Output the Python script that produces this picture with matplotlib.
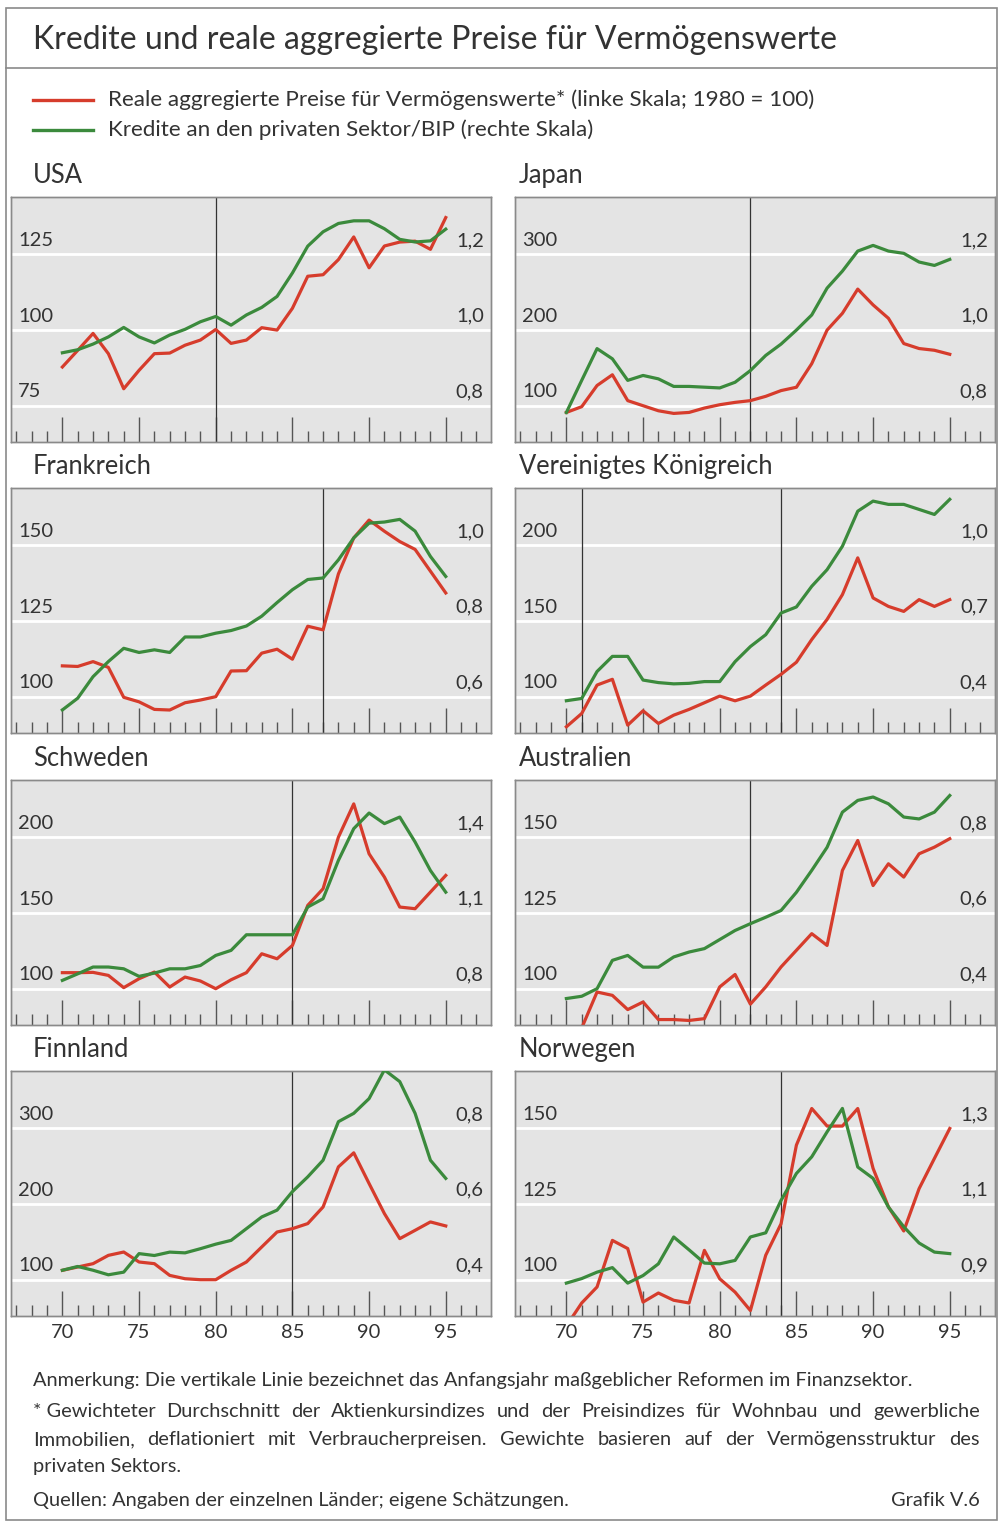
import numpy as np
import matplotlib.pyplot as plt
from matplotlib.patches import Rectangle
from matplotlib.lines import Line2D
from matplotlib.transforms import offset_copy

plt.rcParams['font.family'] = ['Lato', 'DejaVu Sans']

W, H = 1002, 1523
RED = '#d63c2c'
GREEN = '#3b8a3c'
BG = '#e4e4e4'
TXT = '#333333'
EDGE = '#8a8a8a'

years = np.arange(70, 96)

# Reale aggregierte Vermögenspreise (1980 = 100) und Kredite/BIP
usa_price = [87.8, 93.3, 98.9, 92.2, 80.6, 86.7, 92.2, 92.4, 95.0, 96.7, 100.2, 95.6, 96.7,
             100.8, 100.0, 107.2, 117.8, 118.3, 123.3, 130.8, 120.6, 127.8, 129.1, 129.4, 126.7, 137.2]
usa_credit = [0.940, 0.948, 0.963, 0.982, 1.007, 0.982, 0.966, 0.987, 1.002, 1.022, 1.036, 1.013, 1.040,
              1.060, 1.089, 1.151, 1.222, 1.260, 1.282, 1.289, 1.289, 1.268, 1.240, 1.233, 1.236, 1.267]

jpn_price = [91.1, 98.7, 126.7, 140.9, 106.7, 100.0, 93.3, 89.8, 91.1, 96.9, 101.3, 104.4, 106.7,
             112.4, 120.0, 124.4, 155.6, 200.0, 222.2, 254.2, 233.3, 215.6, 182.2, 175.6, 173.3, 168.0]
jpn_credit = [0.782, 0.867, 0.951, 0.924, 0.867, 0.880, 0.871, 0.851, 0.851, 0.849, 0.847, 0.862, 0.893,
              0.933, 0.963, 1.000, 1.040, 1.111, 1.156, 1.209, 1.224, 1.209, 1.203, 1.180, 1.171, 1.187]

fra_price = [110.2, 110.0, 111.6, 109.7, 99.8, 98.3, 95.8, 95.6, 98.0, 98.9, 100.0, 108.5, 108.6,
             114.4, 115.7, 112.4, 123.3, 122.1, 140.6, 152.5, 158.4, 154.7, 151.3, 148.7, 141.5, 134.3]
fra_credit = [0.565, 0.596, 0.653, 0.693, 0.728, 0.717, 0.724, 0.717, 0.758, 0.758, 0.768, 0.775, 0.787,
              0.813, 0.849, 0.883, 0.910, 0.914, 0.962, 1.020, 1.059, 1.062, 1.069, 1.038, 0.971, 0.918]

gbr_price = [80.1, 88.9, 107.7, 111.5, 81.2, 90.7, 82.3, 87.8, 91.6, 96.0, 100.4, 97.3, 100.4,
             107.7, 114.8, 122.8, 137.8, 151.1, 167.5, 191.8, 165.3, 159.7, 156.4, 164.2, 159.7, 164.2]
gbr_credit = [0.384, 0.393, 0.500, 0.560, 0.560, 0.466, 0.456, 0.451, 0.453, 0.460, 0.460, 0.539, 0.599,
              0.646, 0.732, 0.756, 0.838, 0.904, 0.997, 1.136, 1.176, 1.163, 1.163, 1.143, 1.123, 1.183]

swe_price = [110.6, 110.6, 110.8, 108.8, 100.7, 106.6, 111.0, 101.1, 107.7, 105.1, 100.0, 105.9, 110.6,
             123.1, 119.8, 128.6, 155.1, 166.1, 200.2, 222.2, 189.2, 173.8, 154.0, 152.9, 163.9, 174.9]
swe_credit = [0.833, 0.859, 0.886, 0.886, 0.879, 0.849, 0.862, 0.879, 0.879, 0.892, 0.932, 0.952, 1.014,
              1.014, 1.014, 1.014, 1.124, 1.157, 1.309, 1.435, 1.497, 1.455, 1.481, 1.382, 1.269, 1.183]

aus_price = [80.0, 87.0, 98.9, 97.8, 93.1, 95.6, 89.8, 89.8, 89.5, 90.1, 100.6, 104.7, 94.9,
             100.6, 107.2, 112.7, 118.2, 114.3, 139.1, 149.0, 134.1, 141.3, 136.9, 144.6, 146.8, 149.6]
aus_credit = [0.374, 0.380, 0.400, 0.475, 0.488, 0.457, 0.457, 0.484, 0.497, 0.506, 0.530, 0.554, 0.572,
              0.589, 0.607, 0.655, 0.713, 0.774, 0.867, 0.898, 0.907, 0.889, 0.854, 0.849, 0.867, 0.911]

fin_price = [112.4, 116.8, 121.2, 132.2, 136.6, 123.4, 121.2, 105.7, 101.3, 100.0, 100.0, 112.4, 123.4,
             143.3, 163.1, 167.5, 174.2, 196.2, 249.2, 267.8, 227.2, 187.4, 154.3, 165.3, 176.4, 171.1]
fin_credit = [0.425, 0.435, 0.425, 0.413, 0.420, 0.469, 0.464, 0.473, 0.471, 0.482, 0.494, 0.504, 0.535,
              0.566, 0.584, 0.633, 0.672, 0.716, 0.818, 0.840, 0.879, 0.955, 0.924, 0.840, 0.716, 0.668]

nor_price = [84.7, 92.3, 97.6, 113.0, 110.3, 92.6, 95.6, 93.2, 92.3, 109.7, 100.3, 95.9, 89.8,
             108.1, 118.5, 144.5, 156.6, 150.8, 150.8, 156.6, 136.8, 124.1, 116.1, 130.1, 140.1, 150.0]
nor_credit = [0.891, 0.903, 0.920, 0.932, 0.891, 0.911, 0.942, 1.013, 0.979, 0.944, 0.942, 0.951, 1.013,
              1.024, 1.110, 1.181, 1.225, 1.291, 1.353, 1.198, 1.168, 1.092, 1.040, 0.997, 0.973, 0.969]

countries = ["USA", "Japan", "Frankreich", "Vereinigtes Königreich",
             "Schweden", "Australien", "Finnland", "Norwegen"]
prices = [usa_price, jpn_price, fra_price, gbr_price, swe_price, aus_price, fin_price, nor_price]
credits = [usa_credit, jpn_credit, fra_credit, gbr_credit, swe_credit, aus_credit, fin_credit, nor_credit]
left_ticks = [[75, 100, 125], [100, 200, 300], [100, 125, 150], [100, 150, 200],
              [100, 150, 200], [100, 125, 150], [100, 200, 300], [100, 125, 150]]
right_ticks = [[0.8, 1.0, 1.2], [0.8, 1.0, 1.2], [0.6, 0.8, 1.0], [0.4, 0.7, 1.0],
               [0.8, 1.1, 1.4], [0.4, 0.6, 0.8], [0.4, 0.6, 0.8], [0.9, 1.1, 1.3]]
reform_years = [[80], [82], [87], [71, 84], [85], [82], [85], [84]]


def fx(x):
    return x / W


def fy(y):
    return 1 - y / H


fig = plt.figure(figsize=(W / 100, H / 100), dpi=100)

# outer frame and title rule
fig.add_artist(Rectangle((fx(6), fy(1520)), fx(991), 1512 / H, transform=fig.transFigure,
                         fill=False, edgecolor=EDGE, lw=1.2))
fig.add_artist(Line2D([fx(6), fx(997)], [fy(68), fy(68)], color=EDGE, lw=1.2))
fig.text(fx(33), fy(40), "Kredite und reale aggregierte Preise für Vermögenswerte",
         fontsize=23, color=TXT, va='center')

# legend
for yy, col, lab in [(100, RED, "Reale aggregierte Preise für Vermögenswerte* (linke Skala; 1980 = 100)"),
                     (130, GREEN, "Kredite an den privaten Sektor/BIP (rechte Skala)")]:
    fig.add_artist(Line2D([fx(33), fx(93)], [fy(yy), fy(yy)], color=col, lw=2.4))
    fig.text(fx(108), fy(yy), lab, fontsize=16.2, color=TXT, va='center')

col_x = [11, 515]
title_x = [33, 519]
row_y = [197, 488, 780, 1071]
pw, ph = 480, 245

for i, name in enumerate(countries):
    c, r = i % 2, i // 2
    ax = fig.add_axes([fx(col_x[c]), fy(row_y[r] + ph), pw / W, ph / H])
    ax2 = ax.twinx()
    lt, rt = left_ticks[i], right_ticks[i]
    d, e = lt[1] - lt[0], rt[1] - rt[0]
    ax.set_xlim(66.65, 97.95)
    ax.set_ylim(lt[0] - 0.48 * d, lt[2] + 0.76 * d)
    ax2.set_ylim(rt[0] - 0.48 * e, rt[2] + 0.76 * e)

    ax.set_facecolor(BG)
    ax.set_yticks(lt)
    ax.grid(axis='y', color='white', lw=2)
    ax.set_axisbelow(True)
    ax.tick_params(axis='y', left=False, labelleft=False)
    ax2.set_yticks([])

    ax.set_xticks(range(70, 96, 5))
    ax.set_xticks(range(67, 98), minor=True)
    ax.tick_params(axis='x', which='major', direction='in', length=18, width=1, color='#555555',
                   labelbottom=(r == 3), labelsize=14.5, labelcolor=TXT, pad=6)
    ax.tick_params(axis='x', which='minor', direction='in', length=8, width=1, color='#555555')

    for yr in reform_years[i]:
        ax.axvline(yr, color='#333333', lw=0.9, zorder=1)
    ax.plot(years, prices[i], color=RED, lw=2.3, zorder=3)
    ax2.plot(years, credits[i], color=GREEN, lw=2.3, zorder=3)

    for a in (ax, ax2):
        for s in a.spines.values():
            s.set_color(EDGE)
            s.set_linewidth(1)

    tl = offset_copy(ax.get_yaxis_transform(), fig=fig, y=4, units='points')
    tr = offset_copy(ax2.get_yaxis_transform(), fig=fig, y=4, units='points')
    for v in lt:
        ax.text(0.015, v, str(v), transform=tl, fontsize=14.5, color=TXT, va='bottom', ha='left')
    for v in rt:
        ax2.text(0.985, v, f"{v:.1f}".replace('.', ','), transform=tr, fontsize=14.5,
                 color=TXT, va='bottom', ha='right')

    fig.text(fx(title_x[c]), fy(row_y[r] - 14), name, fontsize=18.4, color=TXT, va='baseline')

# footnotes
renderer = fig.canvas.get_renderer()


def justified(words, y, x0, x1, size):
    objs = [fig.text(0, fy(y), w, fontsize=size, color=TXT, va='baseline') for w in words]
    widths = [o.get_window_extent(renderer).width for o in objs]
    gap = (x1 - x0 - sum(widths)) / (len(words) - 1)
    x = x0
    for o, w in zip(objs, widths):
        o.set_x(fx(x))
        x += w + gap


fs = 14.4
fig.text(fx(33), fy(1386), "Anmerkung: Die vertikale Linie bezeichnet das Anfangsjahr maßgeblicher "
         "Reformen im Finanzsektor.", fontsize=fs, color=TXT, va='baseline')
line2 = "Gewichteter Durchschnitt der Aktienkursindizes und der Preisindizes für Wohnbau und gewerbliche"
justified(["* " + line2.split()[0]] + line2.split()[1:], 1417, 33, 980, fs)
line3 = "Immobilien, deflationiert mit Verbraucherpreisen. Gewichte basieren auf der Vermögensstruktur des"
justified(line3.split(), 1445, 33, 980, fs)
fig.text(fx(33), fy(1472), "privaten Sektors.", fontsize=fs, color=TXT, va='baseline')
fig.text(fx(33), fy(1506), "Quellen: Angaben der einzelnen Länder; eigene Schätzungen.",
         fontsize=fs, color=TXT, va='baseline')
fig.text(fx(980), fy(1506), "Grafik V.6", fontsize=fs, color=TXT, va='baseline', ha='right')

fig.savefig("out.png", dpi=100)
